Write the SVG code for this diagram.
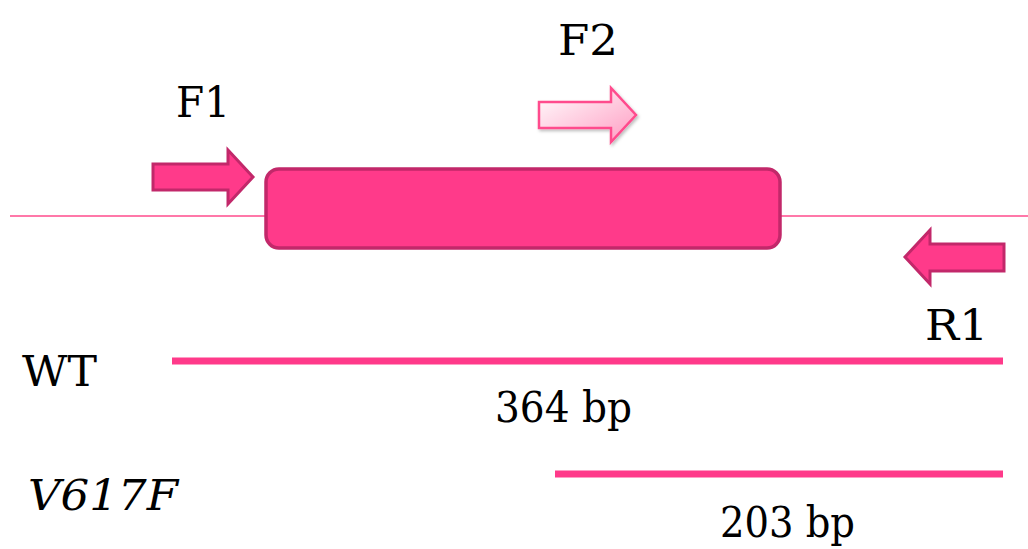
<svg xmlns="http://www.w3.org/2000/svg" width="1028" height="549" viewBox="0 0 1028 549">
  <defs>
    <linearGradient id="f2fill" x1="0" y1="0" x2="1" y2="1">
      <stop offset="0" stop-color="#ffffff"/>
      <stop offset="1" stop-color="#ff9cc2"/>
    </linearGradient>
    <filter id="soft" x="-10%" y="-10%" width="130%" height="140%">
      <feDropShadow dx="1.5" dy="2" stdDeviation="1.5" flood-color="#000" flood-opacity="0.25"/>
    </filter>
  </defs>
  <style>
    .lbl { font-family: "DejaVu Serif", "Liberation Serif", serif; font-size: 43px; fill: #000; }
    .primer { fill: #ff3a8a; stroke: #c2286a; stroke-width: 3; stroke-linejoin: miter; }
    .amp { stroke: #ff3a8a; stroke-width: 7; }
  </style>

  <!-- genomic strand -->
  <g id="strand">
    <line x1="10" y1="216" x2="1028" y2="216" stroke="#ff4b8d" stroke-width="1.5"/>
  </g>

  <!-- exon block -->
  <g id="exon">
    <rect x="266" y="169" width="514" height="79" rx="13" fill="#ff3a8a" stroke="#c2286a" stroke-width="3.5"/>
  </g>

  <!-- forward primer F1 -->
  <g id="F1">
    <polygon class="primer" points="153,164 228,164 228,150 253,177 228,204 228,190 153,190"/>
    <text class="lbl" x="176" y="117" textLength="54" lengthAdjust="spacingAndGlyphs">F1</text>
  </g>

  <!-- forward primer F2 (allele specific) -->
  <g id="F2">
    <polygon points="539,102 611,102 611,88 636,115 611,142 611,128 539,128" fill="url(#f2fill)" stroke="#ff4b8d" stroke-width="2.5" filter="url(#soft)"/>
    <text class="lbl" x="558" y="55" textLength="60" lengthAdjust="spacingAndGlyphs">F2</text>
  </g>

  <!-- reverse primer R1 -->
  <g id="R1">
    <polygon class="primer" points="1004,244 930,244 930,230 905,257 930,284 930,271 1004,271"/>
    <text class="lbl" x="925" y="340" textLength="63" lengthAdjust="spacingAndGlyphs">R1</text>
  </g>

  <!-- amplicon products -->
  <g id="connectors">
    <line class="amp" x1="172" y1="361" x2="1003" y2="361"/>
    <line class="amp" x1="555" y1="474" x2="1003" y2="474"/>
  </g>

  <g id="WT">
    <text class="lbl" x="22" y="386" textLength="75" lengthAdjust="spacingAndGlyphs">WT</text>
    <text class="lbl" x="495" y="422" textLength="137" lengthAdjust="spacingAndGlyphs">364 bp</text>
  </g>

  <g id="V617F">
    <text class="lbl" x="28" y="510" font-style="italic" textLength="150" lengthAdjust="spacingAndGlyphs">V617F</text>
    <text class="lbl" x="720" y="537" textLength="135" lengthAdjust="spacingAndGlyphs">203 bp</text>
  </g>
</svg>
